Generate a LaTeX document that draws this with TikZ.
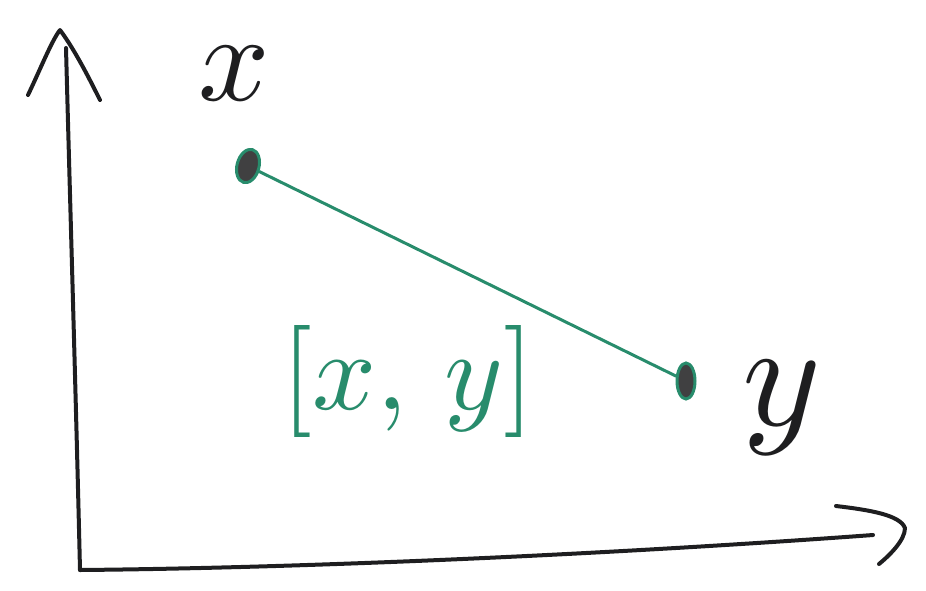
\documentclass[tikz,border=0pt]{standalone}
\usetikzlibrary{shapes.geometric}
\definecolor{ink}{RGB}{30,30,32}
\definecolor{pen}{RGB}{40,140,108}
\tikzset{
  axis/.style={draw=ink,line width=4pt,line cap=round,line join=round},
  pt/.style={ellipse,draw=pen,line width=3pt,fill=ink!85,minimum width=22pt,minimum height=34pt,inner sep=0pt},
  lbl/.style={text=ink,inner sep=0pt},
  conn/.style={draw=pen,line width=3pt,line cap=round}
}
\begin{document}
\begin{tikzpicture}[x=1pt,y=-1pt]
\useasboundingbox (0,0) rectangle (926,590);
% axes
\coordinate (o) at (80,570);
\coordinate (ytop) at (66,48);
\coordinate (xend) at (873,535);
\draw[axis] (o) .. controls (76,400) and (70,200) .. (ytop);
\draw[axis] (28,95) .. controls (40,70) and (52,40) .. (60,30) .. controls (75,50) and (90,80) .. (100,100);
\draw[axis] (o) .. controls (300,568) and (600,555) .. (xend);
\draw[axis] (836,506) .. controls (870,510) and (900,515) .. (905,528) .. controls (905,540) and (890,555) .. (879,564);
% points
\node[pt,rotate=-15] (px) at (248,166) {};
\node[pt,minimum width=18pt,minimum height=36pt] (py) at (686,381) {};
\draw[conn] (px) -- (py);
% labels
\node[lbl,scale=12.5] (lx) at (234,74) {$x$};
\node[lbl,scale=15] (ly) at (782,408) {$y$};
\node[text=pen,inner sep=0pt,scale=11.2] (lxy) at (408,381) {$[x,\,y]$};
\end{tikzpicture}
\end{document}
